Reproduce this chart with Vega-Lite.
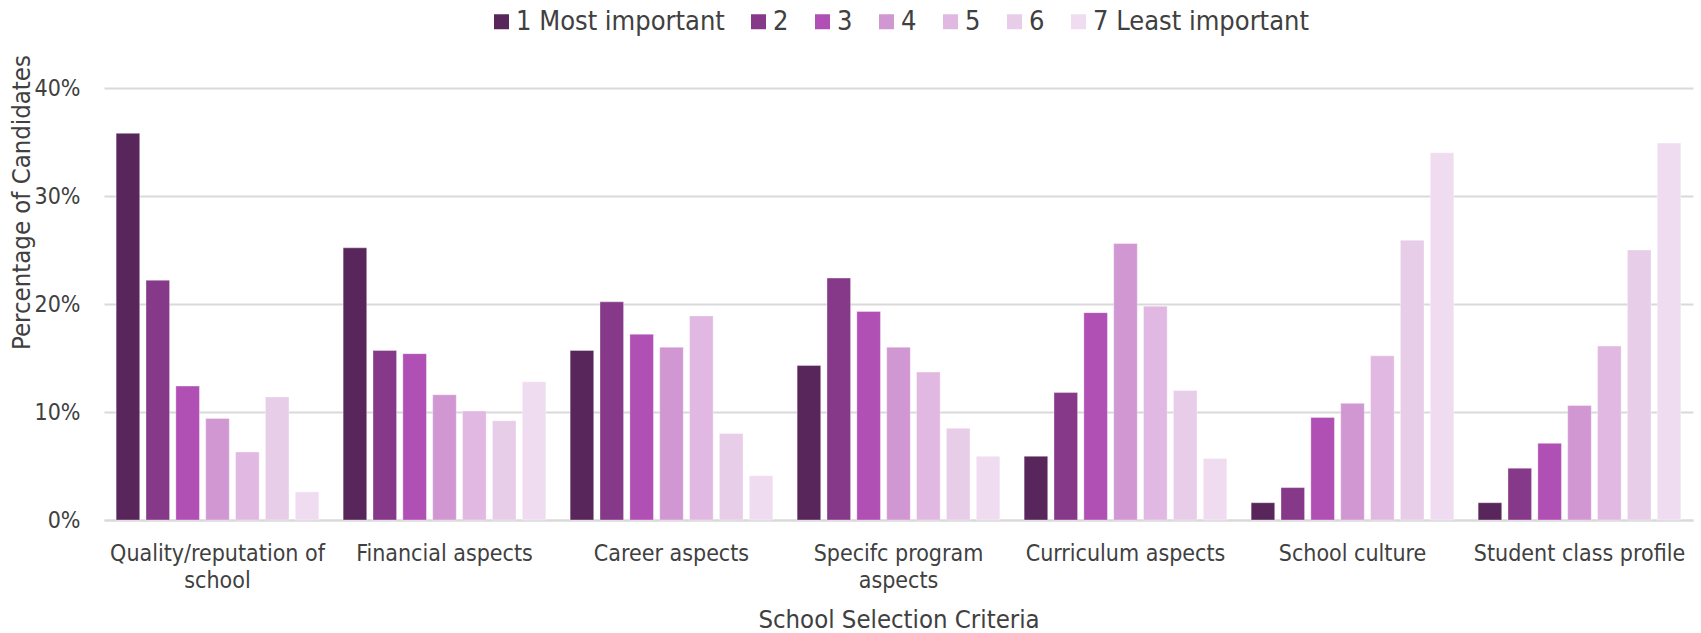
{
  "$schema": "https://vega.github.io/schema/vega-lite/v6.json",
  "autosize": {"type": "none"},
  "width": 1589,
  "height": 432,
  "padding": {"left": 104, "top": 88, "right": 8, "bottom": 113},
  "background": "#ffffff",
  "config": {
    "font": "DejaVu Sans Condensed",
    "view": {"stroke": null},
    "axis": {"labelColor": "#404040", "titleColor": "#404040", "titleFontWeight": "normal"}
  },
  "data": {
    "values": [
      {"criteria": "Quality/reputation of school", "rank": "1 Most important", "value": 35.8},
      {"criteria": "Quality/reputation of school", "rank": "2", "value": 22.2},
      {"criteria": "Quality/reputation of school", "rank": "3", "value": 12.4},
      {"criteria": "Quality/reputation of school", "rank": "4", "value": 9.4},
      {"criteria": "Quality/reputation of school", "rank": "5", "value": 6.3},
      {"criteria": "Quality/reputation of school", "rank": "6", "value": 11.4},
      {"criteria": "Quality/reputation of school", "rank": "7 Least important", "value": 2.6},
      {"criteria": "Financial aspects", "rank": "1 Most important", "value": 25.2},
      {"criteria": "Financial aspects", "rank": "2", "value": 15.7},
      {"criteria": "Financial aspects", "rank": "3", "value": 15.4},
      {"criteria": "Financial aspects", "rank": "4", "value": 11.6},
      {"criteria": "Financial aspects", "rank": "5", "value": 10.1},
      {"criteria": "Financial aspects", "rank": "6", "value": 9.2},
      {"criteria": "Financial aspects", "rank": "7 Least important", "value": 12.8},
      {"criteria": "Career aspects", "rank": "1 Most important", "value": 15.7},
      {"criteria": "Career aspects", "rank": "2", "value": 20.2},
      {"criteria": "Career aspects", "rank": "3", "value": 17.2},
      {"criteria": "Career aspects", "rank": "4", "value": 16.0},
      {"criteria": "Career aspects", "rank": "5", "value": 18.9},
      {"criteria": "Career aspects", "rank": "6", "value": 8.0},
      {"criteria": "Career aspects", "rank": "7 Least important", "value": 4.1},
      {"criteria": "Specifc program aspects", "rank": "1 Most important", "value": 14.3},
      {"criteria": "Specifc program aspects", "rank": "2", "value": 22.4},
      {"criteria": "Specifc program aspects", "rank": "3", "value": 19.3},
      {"criteria": "Specifc program aspects", "rank": "4", "value": 16.0},
      {"criteria": "Specifc program aspects", "rank": "5", "value": 13.7},
      {"criteria": "Specifc program aspects", "rank": "6", "value": 8.5},
      {"criteria": "Specifc program aspects", "rank": "7 Least important", "value": 5.9},
      {"criteria": "Curriculum aspects", "rank": "1 Most important", "value": 5.9},
      {"criteria": "Curriculum aspects", "rank": "2", "value": 11.8},
      {"criteria": "Curriculum aspects", "rank": "3", "value": 19.2},
      {"criteria": "Curriculum aspects", "rank": "4", "value": 25.6},
      {"criteria": "Curriculum aspects", "rank": "5", "value": 19.8},
      {"criteria": "Curriculum aspects", "rank": "6", "value": 12.0},
      {"criteria": "Curriculum aspects", "rank": "7 Least important", "value": 5.7},
      {"criteria": "School culture", "rank": "1 Most important", "value": 1.6},
      {"criteria": "School culture", "rank": "2", "value": 3.0},
      {"criteria": "School culture", "rank": "3", "value": 9.5},
      {"criteria": "School culture", "rank": "4", "value": 10.8},
      {"criteria": "School culture", "rank": "5", "value": 15.2},
      {"criteria": "School culture", "rank": "6", "value": 25.9},
      {"criteria": "School culture", "rank": "7 Least important", "value": 34.0},
      {"criteria": "Student class profile", "rank": "1 Most important", "value": 1.6},
      {"criteria": "Student class profile", "rank": "2", "value": 4.8},
      {"criteria": "Student class profile", "rank": "3", "value": 7.1},
      {"criteria": "Student class profile", "rank": "4", "value": 10.6},
      {"criteria": "Student class profile", "rank": "5", "value": 16.1},
      {"criteria": "Student class profile", "rank": "6", "value": 25.0},
      {"criteria": "Student class profile", "rank": "7 Least important", "value": 34.9}
    ]
  },
  "mark": {"type": "bar", "stroke": "#ffffff", "strokeOpacity": 0.35, "strokeWidth": 1},
  "encoding": {
    "x": {
      "field": "criteria",
      "type": "nominal",
      "sort": null,
      "scale": {"paddingInner": 0.107, "paddingOuter": 0.0535},
      "axis": {
        "title": "School Selection Criteria",
        "titleFontSize": 25.5,
        "titleY": 107,
        "titleBaseline": "alphabetic",
        "labelAngle": 0,
        "labelFontSize": 23,
        "labelPadding": 22,
        "labelBaseline": "top",
        "labelLineHeight": 27,
        "labelLimit": 400,
        "labelExpr": "datum.label == 'Quality/reputation of school' ? ['Quality/reputation of', 'school'] : datum.label == 'Specifc program aspects' ? ['Specifc program', 'aspects'] : datum.label",
        "ticks": false,
        "domainColor": "#d9d9d9",
        "domainWidth": 2
      }
    },
    "xOffset": {
      "field": "rank",
      "type": "nominal",
      "sort": ["1 Most important", "2", "3", "4", "5", "6", "7 Least important"],
      "scale": {"paddingInner": 0.21, "paddingOuter": 0}
    },
    "y": {
      "field": "value",
      "type": "quantitative",
      "scale": {"domain": [0, 40], "nice": false},
      "axis": {
        "title": "Percentage of Candidates",
        "titleFontSize": 25.5,
        "titleX": -83,
        "titleY": 114,
        "titleAlign": "center",
        "titleBaseline": "middle",
        "values": [0, 10, 20, 30, 40],
        "labelExpr": "datum.value + '%'",
        "labelFontSize": 23,
        "labelPadding": 24,
        "ticks": false,
        "domain": false,
        "gridColor": "#d9d9d9",
        "gridWidth": 2
      }
    },
    "color": {
      "field": "rank",
      "type": "nominal",
      "sort": ["1 Most important", "2", "3", "4", "5", "6", "7 Least important"],
      "scale": {
        "domain": ["1 Most important", "2", "3", "4", "5", "6", "7 Least important"],
        "range": ["#58265a", "#853988", "#b04fb4", "#d197d3", "#e1b8e2", "#e8cde9", "#f0dcf0"]
      },
      "legend": {
        "title": null,
        "orient": "none",
        "direction": "horizontal",
        "legendX": 384,
        "legendY": -80,
        "padding": 0,
        "symbolType": "square",
        "symbolSize": 225,
        "symbolStrokeWidth": 0,
        "labelFontSize": 27,
        "labelColor": "#404040",
        "labelOffset": 1,
        "columnPadding": 20,
        "labelLimit": 400
      }
    }
  }
}
